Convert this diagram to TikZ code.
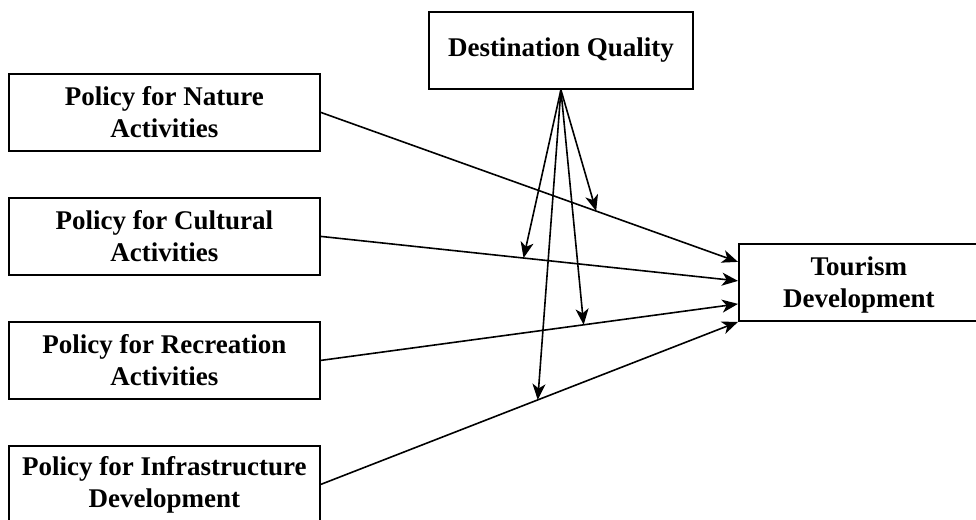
\documentclass[tikz,border=0pt]{standalone}
\usepackage{fontspec}
\setmainfont{Liberation Serif}
\usetikzlibrary{arrows.meta}
\tikzset{
  box/.style={draw, line width=1.8pt, anchor=north west, align=center, inner sep=0pt,
    font=\bfseries\fontsize{27}{32}\selectfont},
  arr/.style={line width=1.6pt, -{Stealth[length=16pt,width=13pt,inset=4.5pt]}},
}
\begin{document}
\begin{tikzpicture}[x=1pt,y=-1pt]
\useasboundingbox (0,0) rectangle (976,519);
\node[box, minimum width=264pt, minimum height=77pt] (dq) at (428,11) {Destination Quality};
\node[box, minimum width=311pt, minimum height=77pt] (nat) at (8,73) {Policy for Nature\\Activities};
\node[box, minimum width=311pt, minimum height=77pt] (cul) at (8,197) {Policy for Cultural\\Activities};
\node[box, minimum width=311pt, minimum height=77pt] (rec) at (8,321) {Policy for Recreation\\Activities};
\node[box, minimum width=311pt, minimum height=77pt] (inf) at (8,445) {Policy for Infrastructure\\Development};
\node[box, minimum width=240pt, minimum height=77pt] (tour) at (738,243) {\rule{0pt}{24pt}Tourism\\Development};
\coordinate (t1) at ([yshift=20.5pt]tour.west);
\coordinate (t2) at ([yshift=1.5pt]tour.west);
\coordinate (t3) at ([yshift=-21.5pt]tour.west);
\coordinate (t4) at ([yshift=-39.5pt]tour.west);
\draw[arr] (nat.east) -- (t1) coordinate[pos=0.66] (m1);
\draw[arr] (cul.east) -- (t2) coordinate[pos=0.486] (m2);
\draw[arr] (rec.east) -- (t3) coordinate[pos=0.63] (m3);
\draw[arr] (inf.east) -- (t4) coordinate[pos=0.52] (m4);
\draw[arr] (dq.south) -- (m1);
\draw[arr] (dq.south) -- (m2);
\draw[arr] (dq.south) -- (m3);
\draw[arr] (dq.south) -- (m4);
\end{tikzpicture}
\end{document}
